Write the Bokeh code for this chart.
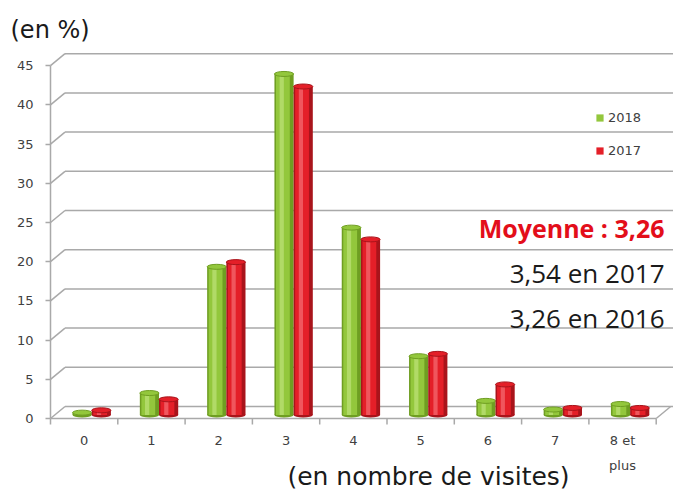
import numpy as np
from bokeh.plotting import figure
from bokeh.models import Range1d, FixedTicker, Label, Legend, LegendItem
from bokeh.embed import file_html
from bokeh.resources import INLINE

# ---- data ----
categories = ["0", "1", "2", "3", "4", "5", "6", "7", "8 et\nplus"]
values_2018 = [0.3, 2.8, 18.9, 43.5, 23.9, 7.5, 1.8, 0.7, 1.4]
values_2017 = [0.6, 2.0, 19.5, 41.9, 22.4, 7.8, 3.9, 0.9, 0.9]
y_ticks = [0, 5, 10, 15, 20, 25, 30, 35, 40, 45]
series_names = ["2018", "2017"]
notes = ["Moyenne : 3,26", "3,54 en 2017", "3,26 en 2016"]

# ---- layout constants (pixels) ----
W, H = 673, 493
AX_X, AX_Y = 50, 418            # pixel position of the front axis corner
PXX, PXY = 67.3, 7.84           # px per data unit
XS = -0.5 - AX_X / PXX
YS = -(H - AX_Y) / PXY
DXU, DYU = 14.5 / PXX, 12 / PXY  # depth offset of back wall
BAR_SHIFT = 3.5 / PXY
LABEL_FIX = 8                    # baseline correction for Label text


def dx(px):
    return XS + px / PXX


def dy(py):
    return YS + (H - py + LABEL_FIX) / PXY


GRID = "#a9a9a9"
TXT = "#404040"

p = figure(width=W, height=H, output_backend="svg", toolbar_location=None,
           x_range=Range1d(XS, XS + W / PXX), y_range=Range1d(YS, YS + H / PXY),
           min_border=0, min_border_left=0, min_border_right=0,
           min_border_top=0, min_border_bottom=0)
p.extra_y_ranges = {"bars": Range1d(YS - BAR_SHIFT, YS + H / PXY - BAR_SHIFT)}
p.outline_line_color = None
p.xgrid.visible = False
p.ygrid.visible = False
p.background_fill_color = "white"

# ---- axes ----
ya = p.yaxis[0]
ya.fixed_location = -0.5
ya.ticker = FixedTicker(ticks=y_ticks)
ya.bounds = (0, 45)
ya.axis_line_color = GRID
ya.axis_line_width = 1.5
ya.major_tick_line_color = GRID
ya.major_tick_line_width = 1.5
ya.major_tick_out = 5
ya.major_tick_in = 0
ya.minor_tick_line_color = None
ya.major_label_standoff = 12
ya.major_label_text_font = "DejaVu Sans"
ya.major_label_text_font_size = "13px"
ya.major_label_text_color = TXT

xa = p.xaxis[0]
xa.fixed_location = 0
xa.ticker = FixedTicker(ticks=list(range(len(categories))))
xa.major_label_overrides = {i: c for i, c in enumerate(categories)}
xa.axis_line_color = None
xa.major_tick_line_color = None
xa.minor_tick_line_color = None
xa.major_tick_out = 0
xa.major_tick_in = 0
xa.major_label_standoff = 14
xa.major_label_text_line_height = 1.7
xa.major_label_text_font = "DejaVu Sans"
xa.major_label_text_font_size = "13px"
xa.major_label_text_color = TXT

# ---- 3D frame: back wall gridlines, diagonals, floor ----
yt = np.array(y_ticks, dtype=float)
n = len(categories)
x_end = XS + W / PXX + 1
p.segment(x0=np.full(len(yt), -0.5 + DXU), y0=yt + DYU, x1=np.full(len(yt), x_end), y1=yt + DYU,
          line_color=GRID, line_width=1.5)
p.segment(x0=np.full(len(yt), -0.5), y0=yt, x1=np.full(len(yt), -0.5 + DXU), y1=yt + DYU,
          line_color=GRID, line_width=1.5)
p.segment(x0=[-0.5], y0=[0], x1=[n - 0.5], y1=[0], line_color=GRID, line_width=1.5)
p.segment(x0=[n - 0.5], y0=[0], x1=[n - 0.5 + DXU], y1=[DYU], line_color=GRID, line_width=1.5)
bounds = np.arange(n + 1) - 0.5
p.segment(x0=bounds, y0=np.zeros(n + 1), x1=bounds, y1=np.full(n + 1, -6 / PXY),
          line_color=GRID, line_width=1.5)

# ---- cylinder bars ----
xc = np.arange(n, dtype=float)
BW = 0.285
styles = [
    (np.array(values_2018), xc - 0.03, "#6f9e22", "#93c73c", "#b9df72"),
    (np.array(values_2017), xc + 0.255, "#a9141b", "#e41f28", "#f2646a"),
]
main_renderers = []
for vals, xs, dark, main, light in styles:
    p.ellipse(x=xs, y=np.zeros(n), width=BW, height=5, height_units="screen",
              fill_color=dark, line_color=None, y_range_name="bars")
    p.vbar(x=xs, width=BW, top=vals, bottom=0, fill_color=dark, line_color=None,
           y_range_name="bars")
    r = p.vbar(x=xs - BW * 0.06, width=BW * 0.72, top=vals, bottom=0, fill_color=main,
               line_color=None, y_range_name="bars")
    main_renderers.append(r)
    p.vbar(x=xs - BW * 0.12, width=BW * 0.22, top=vals, bottom=0, fill_color=light,
           fill_alpha=0.8, line_color=None, y_range_name="bars")
    p.ellipse(x=xs, y=vals, width=BW, height=5, height_units="screen",
              fill_color=main, line_color=dark, line_width=1, y_range_name="bars")

# ---- legend ----
legend = Legend(items=[LegendItem(label=series_names[0], renderers=[main_renderers[0]]),
                       LegendItem(label=series_names[1], renderers=[main_renderers[1]])],
                location=(595, H - 158), glyph_width=9, glyph_height=9, label_height=9,
                label_width=20, spacing=18, padding=0, margin=0, label_standoff=4,
                border_line_alpha=0, background_fill_alpha=0,
                label_text_font="DejaVu Sans", label_text_font_size="13px",
                label_text_color=TXT)
p.add_layout(legend)

# ---- texts ----
p.add_layout(Label(x=dx(10), y=dy(37), text="(en %)",
                   text_font="DejaVu Sans", text_font_size="24px", text_color="#1a1a1a",
                   text_align="left", text_baseline="alphabetic"))
p.add_layout(Label(x=dx(428), y=dy(484), text="(en nombre de visites)",
                   text_font="DejaVu Sans", text_font_size="25px", text_color="#1a1a1a",
                   text_align="center", text_baseline="alphabetic"))
note_y = [dy(235), dy(280), dy(325)]
note_col = ["#e30e1a", "#1a1a1a", "#1a1a1a"]
note_style = ["bold", "normal", "normal"]
note_size = ["25px", "26px", "26px"]
for t, yy, c, s, fs in zip(notes, note_y, note_col, note_style, note_size):
    p.add_layout(Label(x=dx(664), y=yy, text=t, text_font="Open Sans", text_font_size=fs,
                       text_color=c, text_font_style=s, text_align="right",
                       text_baseline="alphabetic"))

open("out.html", "w").write(file_html(p, INLINE))
